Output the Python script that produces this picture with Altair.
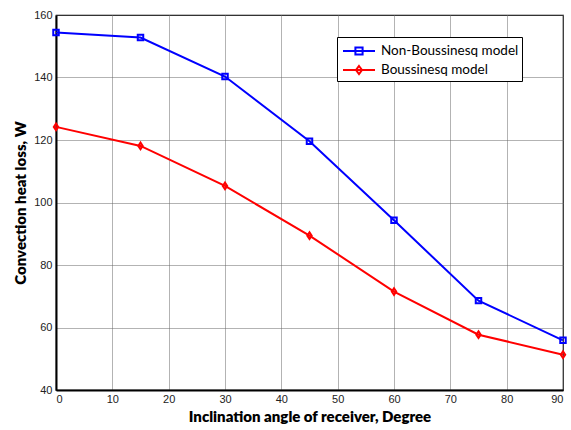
import altair as alt
import pandas as pd

angles = [0, 15, 30, 45, 60, 75, 90]
non_boussinesq = [154.4, 152.8, 140.3, 119.6, 94.3, 68.6, 55.9]
boussinesq = [124.2, 118.1, 105.3, 89.4, 71.5, 57.7, 51.3]
models = ["Non-Boussinesq model", "Boussinesq model"]
colors = ["#0000ff", "#ff0000"]
x_ticks = list(range(0, 91, 10))
y_ticks = list(range(40, 161, 20))

rows = []
for a, v in zip(angles, non_boussinesq):
    rows.append({"angle": a, "value": v, "model": models[0]})
for a, v in zip(angles, boussinesq):
    rows.append({"angle": a, "value": v, "model": models[1]})
df = pd.DataFrame(rows)

marker_paths = ["M-1,-1L1,-1L1,1L-1,1Z", "M0,-1.2L0.8,0L0,1.2L-0.8,0Z"]
legend_paths = [
    "M-1.6,0L1.6,0M-0.36,-0.36L0.36,-0.36L0.36,0.36L-0.36,0.36Z",
    "M-1.6,0L1.6,0M0,-0.4L0.3,0L0,0.4L-0.3,0Z",
]

x = alt.X(
    "angle:Q",
    scale=alt.Scale(domain=[0, 90], nice=False),
    axis=alt.Axis(
        values=x_ticks,
        title="Inclination angle of receiver, Degree",
        grid=True,
        ticks=False,
        labelPadding=3,
        titlePadding=5,
    ),
)
y = alt.Y(
    "value:Q",
    scale=alt.Scale(domain=[40, 160], nice=False),
    axis=alt.Axis(
        values=y_ticks,
        title="Convection heat loss, W",
        grid=True,
        ticks=False,
        labelPadding=4,
        titlePadding=5,
    ),
)

cscale = alt.Scale(domain=models, range=colors)

line = alt.Chart(df).mark_line(strokeWidth=2).encode(
    x=x, y=y, color=alt.Color("model:N", scale=cscale, legend=None),
    detail="model:N",
)

pts = alt.Chart(df).mark_point(filled=False, strokeWidth=2, size=30, opacity=1).encode(
    x=x, y=y,
    color=alt.Color("model:N", scale=cscale, legend=None),
    shape=alt.Shape("model:N", scale=alt.Scale(domain=models, range=marker_paths), legend=None),
)

leg = alt.Legend(
    title=None,
    orient="none",
    legendX=281,
    legendY=22,
    padding=3,
    rowPadding=0,
    symbolSize=400,
    symbolOffset=8,
    labelOffset=11,
    symbolStrokeWidth=2,
    labelFont="Lato",
    labelFontSize=13.5,
    labelColor="#000000",
    strokeColor="#000000",
    fillColor="#ffffff",
    symbolOpacity=1,
)

legend_layer = alt.Chart(df).transform_filter("datum.angle < 0").mark_point(
    filled=False, strokeWidth=2, opacity=1
).encode(
    x=x, y=y,
    color=alt.Color("model:N", scale=cscale, legend=leg),
    shape=alt.Shape("model:N", scale=alt.Scale(domain=models, range=legend_paths), legend=leg),
)

chart = alt.layer(line, pts, legend_layer).resolve_scale(
    color="independent", shape="independent"
).properties(
    width=507,
    height=375,
    autosize=alt.AutoSizeParams(type="none"),
    padding={"left": 56, "top": 15, "right": 8, "bottom": 40},
    background="#ffffff",
).configure_view(
    stroke="#000000", strokeWidth=1.2
).configure_axis(
    domainColor="#000000",
    domainWidth=2,
    gridColor="#666666",
    gridDash=[1, 1],
    gridWidth=1,
    labelFont="Liberation Sans",
    labelFontSize=11,
    labelColor="#222222",
    titleFont="Lato",
    titleFontSize=15,
    titleFontWeight=800,
    titleColor="#000000",
)

chart.save("out.html", embed_options={"renderer": "svg", "actions": False})
